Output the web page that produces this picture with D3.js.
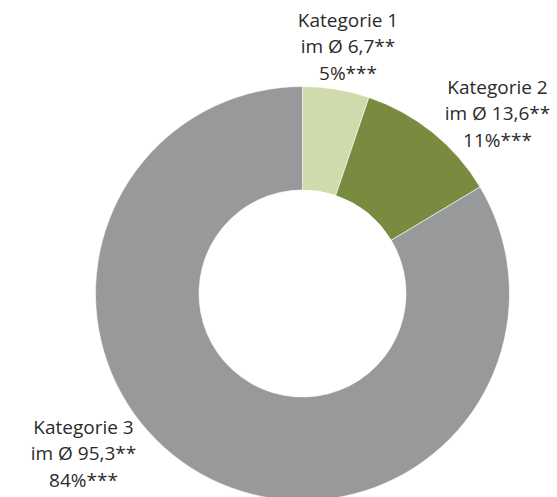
<!DOCTYPE html>
<html>
<head>
<meta charset="utf-8">
<script src="https://cdn.jsdelivr.net/npm/d3@7"></script>
<style>
  html, body { margin: 0; padding: 0; background: #fff; }
  svg { display: block; }
</style>
</head>
<body>
<svg id="chart" width="557" height="497"></svg>
<script>
// Data
const categories = ["Kategorie 1", "Kategorie 2", "Kategorie 3"];
const averages = ["6,7", "13,6", "95,3"];
const shares = [5.2, 11.2, 83.6];
const shareLabels = ["5%", "11%", "84%"];
const colors = ["#cfdbab", "#788b3f", "#98999b"];

const svg = d3.select("#chart");
const cx = 302.5, cy = 293.5, outerR = 207, innerR = 103.5;

const pie = d3.pie().sort(null).value(d => d)(shares);
const arc = d3.arc().innerRadius(innerR).outerRadius(outerR);

const g = svg.append("g").attr("transform", `translate(${cx},${cy})`);
g.selectAll("path")
  .data(pie)
  .join("path")
  .attr("d", arc)
  .attr("fill", (d, i) => colors[i])
  .attr("stroke", "#ffffff")
  .attr("stroke-width", 0.6);

// Label positions (centre x, first baseline)
const labelPos = [[348, 27], [497.5, 94], [83.5, 434]];
const lineH = 26.3;

categories.forEach((c, i) => {
  const t = svg.append("text")
    .attr("x", labelPos[i][0])
    .attr("y", labelPos[i][1])
    .attr("text-anchor", "middle")
    .attr("font-family", "'Open Sans', sans-serif")
    .attr("font-size", 19)
    .attr("fill", "#2b2b2b");
  const lines = [c, `im Ø ${averages[i]}**`, `${shareLabels[i]}***`];
  lines.forEach((l, j) => {
    t.append("tspan")
      .attr("x", labelPos[i][0])
      .attr("y", labelPos[i][1] + j * lineH)
      .text(l);
  });
});
</script>
</body>
</html>
